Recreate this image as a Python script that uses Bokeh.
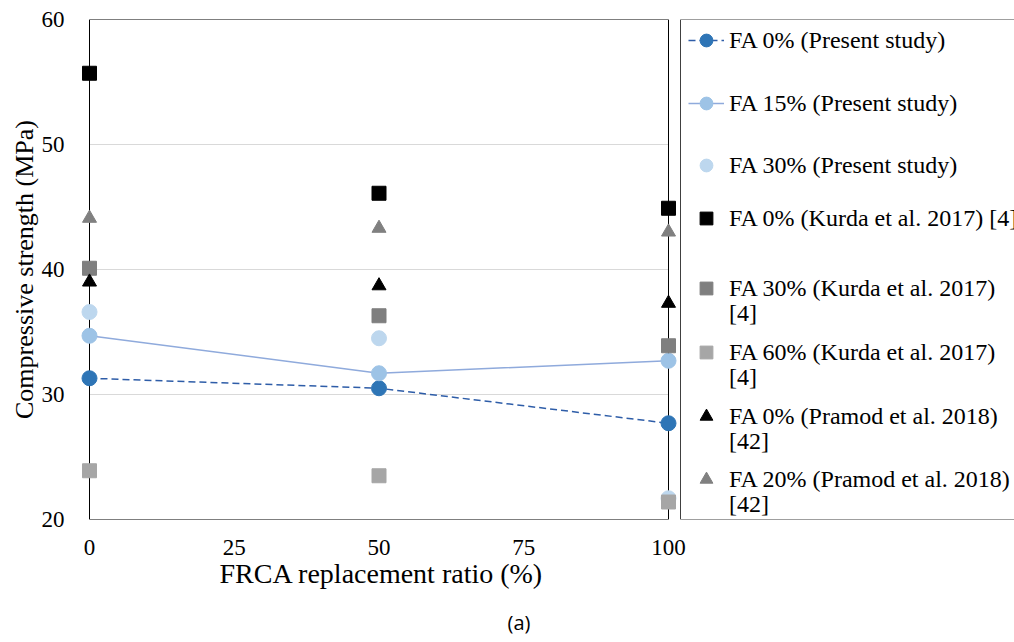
from bokeh.plotting import figure
from bokeh.models import Range1d, FixedTicker, Legend, LegendItem, BoxAnnotation, Title
from bokeh.embed import file_html
from bokeh.resources import INLINE

# ---- data ----
ratio = [0, 50, 100]
fa0_present = [31.3, 30.5, 27.7]
fa15_present = [34.7, 31.7, 32.7]
fa30_present = [36.6, 34.5, 21.7]
fa0_kurda = [55.7, 46.1, 44.9]
fa30_kurda = [40.1, 36.3, 33.9]
fa60_kurda = [23.9, 23.5, 21.4]
fa0_pramod = [39.0, 38.7, 37.3]
fa20_pramod = [44.1, 43.3, 43.0]
x_ticks = [0, 25, 50, 75, 100]
y_ticks = [20, 30, 40, 50, 60]
labels = ["FA 0% (Present study)", "FA 15% (Present study)", "FA 30% (Present study)",
          "FA 0% (Kurda et al. 2017) [4]", "FA 30% (Kurda et al. 2017)", "[4]",
          "FA 60% (Kurda et al. 2017)", "[4]", "FA 0% (Pramod et al. 2018)", "[42]",
          "FA 20% (Pramod et al. 2018)", "[42]"]

FONT = "Liberation Serif"
PX = 5.79                     # pixels per x unit (0..100 over 579 px)
X_MIN = -9 / PX               # small room so edge markers are not clipped
X_MAX = 100 + 346 / PX        # frame continues under the legend area

p = figure(frame_width=934, frame_height=500, min_border_left=80, min_border_top=19,
           min_border_right=0, min_border_bottom=123,
           x_range=Range1d(X_MIN, X_MAX), y_range=Range1d(20, 60),
           output_backend="svg", toolbar_location=None)
p.outline_line_color = None
p.background_fill_color = "white"
p.border_fill_color = "white"

p.xgrid.visible = False
p.ygrid.grid_line_color = "#D9D9D9"
p.ygrid.cross_bounds = (0, 100)

for ax in (p.xaxis, p.yaxis):
    ax.axis_line_color = None
    ax.major_tick_line_color = None
    ax.minor_tick_line_color = None
    ax.major_label_text_font = FONT
    ax.major_label_text_font_size = "23px"
    ax.major_label_text_color = "black"
    ax.axis_label_text_font = FONT
    ax.axis_label_text_font_style = "normal"
    ax.axis_label_text_color = "black"
p.xaxis.ticker = FixedTicker(ticks=x_ticks)
p.yaxis.ticker = FixedTicker(ticks=y_ticks)
p.xaxis.major_label_standoff = 14
p.yaxis.major_label_standoff = 10
p.yaxis.axis_label = "Compressive strength (MPa)"
p.yaxis.axis_label_text_font_size = "26px"
p.yaxis.axis_label_standoff = 0

# x-axis title, left-aligned under the 0..100 span
p.add_layout(Title(text="FRCA replacement ratio (%)", align="left", offset=139, standoff=-3,
                   text_font=FONT, text_font_size="28px", text_font_style="normal",
                   text_color="black"), "below")
# panel caption
p.add_layout(Title(text="(a)", align="left", offset=427, standoff=38,
                   text_font="Open Sans", text_font_size="20px",
                   text_font_style="normal", text_color="black"), "below")

# plot frame drawn at data bounds
p.add_layout(BoxAnnotation(left=0, right=100, bottom=20, top=60, fill_alpha=0,
                           line_color="black", line_alpha=1, line_width=1, level="underlay"))

# legend box (right side, its right edge runs off the page)
p.add_layout(BoxAnnotation(left=(680 - 89) / PX, right=X_MAX + 10, bottom=20, top=60,
                           fill_color="white", fill_alpha=1,
                           line_color="#404040", line_alpha=1, line_width=1, level="underlay"))

# ---- series ----
C0, C0L = "#2E75B6", "#2E5DA8"
C15, C15L = "#9DC3E6", "#8FAADC"
C30 = "#BDD7EE"
GK30, GK60, GP20 = "#7F7F7F", "#A6A6A6", "#808080"

r0l = p.line(ratio, fa0_present, line_color=C0L, line_width=1.5, line_dash="7 4")
r0m = p.scatter(ratio, fa0_present, marker="circle", size=15, fill_color=C0, line_color=C0)
r15l = p.line(ratio, fa15_present, line_color=C15L, line_width=1.5)
r15m = p.scatter(ratio, fa15_present, marker="circle", size=15, fill_color=C15, line_color=C15)
r30m = p.scatter(ratio, fa30_present, marker="circle", size=15, fill_color=C30, line_color=C30)
rk0 = p.scatter(ratio, fa0_kurda, marker="square", size=14, fill_color="black", line_color="black")
rk30 = p.scatter(ratio, fa30_kurda, marker="square", size=14, fill_color=GK30, line_color=GK30)
rk60 = p.scatter(ratio, fa60_kurda, marker="square", size=14, fill_color=GK60, line_color=GK60)
rp0 = p.scatter(ratio, fa0_pramod, marker="triangle", size=14, fill_color="black", line_color="black")
rp20 = p.scatter(ratio, fa20_pramod, marker="triangle", size=14, fill_color=GP20, line_color=GP20)
blank = p.scatter(ratio, fa0_present, marker="square", size=1, fill_alpha=0, line_alpha=0)

row_renderers = [[r0l, r0m], [r15l, r15m], [r30m], [rk0], [rk30], [blank],
                 [rk60], [blank], [rp0], [blank], [rp20], [blank]]
row_centers = [40, 103, 165, 218, 288, 313, 352, 377, 416, 441, 479, 504]
for lab, rends, yc in zip(labels, row_renderers, row_centers):
    lg = Legend(items=[LegendItem(label=lab, renderers=rends)],
                location=(608, 503 - yc), orientation="vertical",
                label_height=32, glyph_height=32, glyph_width=36, label_standoff=5,
                padding=0, spacing=0, margin=0,
                border_line_alpha=0, background_fill_alpha=0,
                label_text_font=FONT, label_text_font_size="24px", label_text_color="black")
    p.add_layout(lg, "center")

open("out.html", "w").write(file_html(p, INLINE))
